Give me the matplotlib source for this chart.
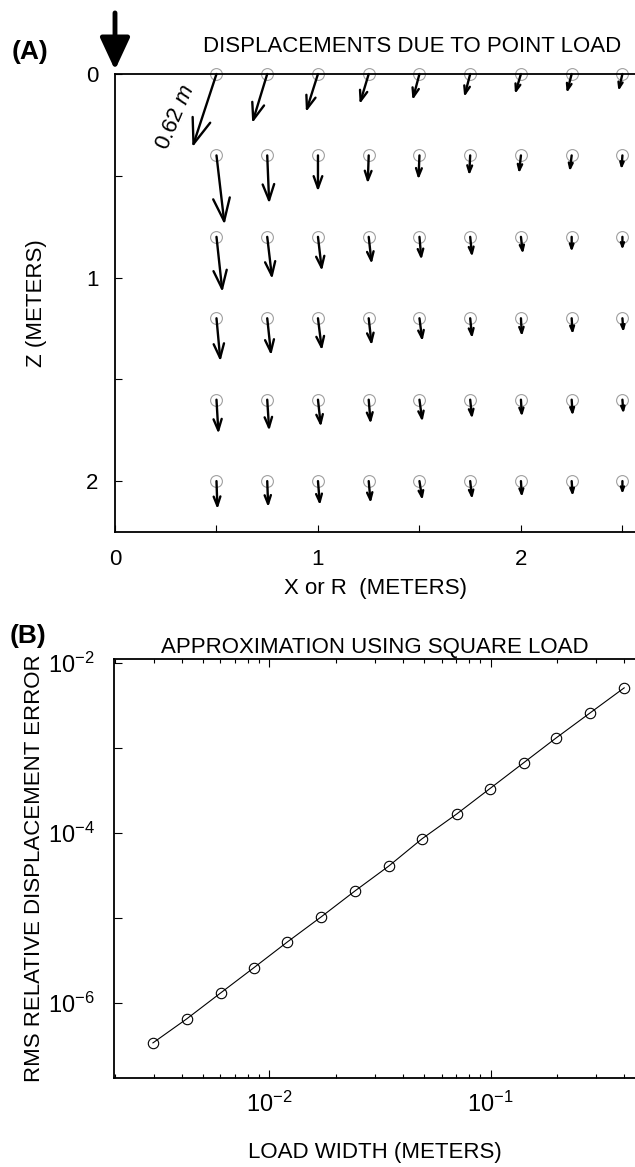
import numpy as np
import matplotlib
matplotlib.use("Agg")
import matplotlib.pyplot as plt
from matplotlib.ticker import FixedLocator, NullLocator

plt.rcParams['font.family'] = ['Liberation Sans', 'DejaVu Sans']
plt.rcParams['mathtext.fontset'] = 'custom'
plt.rcParams['mathtext.rm'] = 'Liberation Sans'
plt.rcParams['mathtext.it'] = 'Liberation Sans:italic'
plt.rcParams['mathtext.default'] = 'regular'

# ---- panel A data: grid of observation points and displacements (m) ----
grid_x = [0.5, 0.75, 1.0, 1.25, 1.5, 1.75, 2.0, 2.25, 2.5]
grid_z = [0.0, 0.4, 0.8, 1.2, 1.6, 2.0]

# horizontal displacement, one row per depth
disp_u = [
    [-0.194, -0.121, -0.097, -0.073, -0.056, -0.048, -0.048, -0.040, -0.032],
    [0.065, 0.016, 0.000, -0.008, -0.008, -0.008, -0.016, -0.016, -0.008],
    [0.048, 0.040, 0.032, 0.024, 0.016, 0.016, 0.016, 0.000, 0.000],
    [0.032, 0.032, 0.032, 0.024, 0.024, 0.016, 0.008, 0.008, 0.008],
    [0.016, 0.016, 0.024, 0.016, 0.024, 0.016, 0.008, 0.008, 0.008],
    [0.008, 0.008, 0.016, 0.016, 0.024, 0.016, 0.008, 0.008, 0.000],
]
# vertical displacement (positive = downward)
disp_w = [
    [0.589, 0.395, 0.306, 0.242, 0.210, 0.185, 0.161, 0.153, 0.137],
    [0.556, 0.387, 0.290, 0.226, 0.194, 0.161, 0.145, 0.129, 0.113],
    [0.444, 0.339, 0.274, 0.218, 0.185, 0.161, 0.137, 0.121, 0.105],
    [0.347, 0.298, 0.258, 0.218, 0.185, 0.161, 0.145, 0.129, 0.113],
    [0.274, 0.250, 0.218, 0.194, 0.177, 0.153, 0.137, 0.129, 0.113],
    [0.226, 0.210, 0.194, 0.177, 0.153, 0.145, 0.129, 0.121, 0.105],
]
arrow_scale = 0.611   # plot meters per meter of displacement

# ---- panel B data ----
load_width = [0.00297, 0.00422, 0.00601, 0.00847, 0.01205, 0.01714, 0.02438,
              0.0347, 0.0489, 0.0703, 0.0990, 0.141, 0.198, 0.282, 0.402]
rms_error = [3.39e-7, 6.49e-7, 1.31e-6, 2.58e-6, 5.22e-6, 1.03e-5, 2.08e-5,
             4.09e-5, 8.5e-5, 1.67e-4, 3.3e-4, 6.67e-4, 1.31e-3, 2.58e-3, 5.08e-3]

W, H = 635, 1167
fig = plt.figure(figsize=(W / 100, H / 100), dpi=100)
fs = 16

# ================= panel A =================
axA = fig.add_axes([115 / W, 1 - 532 / H, 1 - 115 / W, (532 - 74) / H])
axA.set_xlim(0, 2.562)
axA.set_ylim(2.25, 0)

X, Z = np.meshgrid(grid_x, grid_z)
axA.plot(X.ravel(), Z.ravel(), 'o', mfc='none', mec='#a0a0a0', ms=8.5, mew=0.8,
         clip_on=False, zorder=2)

px_per_unit = 203.0
for i, z in enumerate(grid_z):
    for j, x in enumerate(grid_x):
        u = disp_u[i][j] * arrow_scale
        w = disp_w[i][j] * arrow_scale
        L_pt = np.hypot(u, w) * px_per_unit * 0.72
        hl = 0.33 * L_pt
        hw = 0.12 * L_pt
        axA.annotate('', xy=(x + u, z + w), xytext=(x, z),
                     arrowprops=dict(arrowstyle='->,head_length=%.2f,head_width=%.2f' % (hl, hw),
                                     lw=1.7, color='k', shrinkA=0, shrinkB=0,
                                     mutation_scale=1),
                     zorder=3, annotation_clip=False)

# applied point load
axA.annotate('', xy=(0, -0.02), xytext=(0, -0.30),
             arrowprops=dict(arrowstyle='-|>,head_length=1.4,head_width=0.65',
                             lw=3.5, color='k', shrinkA=0, shrinkB=0,
                             mutation_scale=14),
             annotation_clip=False)

axA.text(0.3, 0.215, '0.62 $\\mathit{m}$', rotation=67, fontsize=16,
         ha='center', va='center')

for s in ['left', 'bottom', 'top']:
    axA.spines[s].set_linewidth(1.3)
axA.spines['right'].set_visible(False)
axA.set_xticks([0, 0.5, 1, 1.5, 2, 2.5])
axA.set_xticklabels(['0', '', '1', '', '2', ''])
axA.set_yticks([0, 0.5, 1, 1.5, 2])
axA.set_yticklabels(['0', '', '1', '', '2'])
axA.tick_params(direction='in', length=5, width=0.8, labelsize=fs, pad=12)
axA.set_xlabel('X or R  (METERS)', fontsize=fs, labelpad=6)
axA.set_ylabel('Z (METERS)', fontsize=fs, labelpad=28)
axA.set_title('DISPLACEMENTS DUE TO POINT LOAD', fontsize=fs, x=0.571, pad=16)
fig.text(12 / W, 1 - 52 / H, '(A)', fontsize=19, fontweight='bold', va='center')

# ================= panel B =================
axB = fig.add_axes([114 / W, 1 - 1078 / H, 1 - 114 / W, (1078 - 659) / H])
axB.loglog(load_width, rms_error, '-o', color='k', lw=0.8, mfc='none', mec='k',
           ms=7.5, mew=0.8)
axB.set_xlim(0.00198, 0.45)
axB.set_ylim(1.31e-7, 1.11e-2)

axB.yaxis.set_major_locator(FixedLocator([1e-7, 1e-6, 1e-5, 1e-4, 1e-3, 1e-2]))
axB.set_yticklabels(['', '$10^{-6}$', '', '$10^{-4}$', '', '$10^{-2}$'])
axB.yaxis.set_minor_locator(NullLocator())
axB.xaxis.set_major_locator(FixedLocator([1e-2, 1e-1]))
axB.set_xticklabels(['$10^{-2}$', '$10^{-1}$'])
minor_x = [m * 10.0 ** e for e in (-3, -2, -1) for m in range(2, 10)]
axB.xaxis.set_minor_locator(FixedLocator(minor_x))
axB.xaxis.set_minor_formatter(plt.NullFormatter())
axB.tick_params(which='both', direction='in', top=True, width=0.8, labelsize=17)
axB.tick_params(which='major', length=6, pad=10)
axB.tick_params(which='minor', length=3)
axB.tick_params(axis='y', pad=14)
for s in ['left', 'bottom', 'top']:
    axB.spines[s].set_linewidth(1.3)
axB.spines['right'].set_visible(False)
axB.set_xlabel('LOAD WIDTH (METERS)', fontsize=fs, labelpad=18)
axB.set_ylabel('RMS RELATIVE DISPLACEMENT ERROR', fontsize=fs, labelpad=2)
axB.set_title('APPROXIMATION USING SQUARE LOAD', fontsize=fs, pad=4)
fig.text(10 / W, 1 - 636 / H, '(B)', fontsize=19, fontweight='bold', va='center')

fig.savefig('out.png', dpi=100)
